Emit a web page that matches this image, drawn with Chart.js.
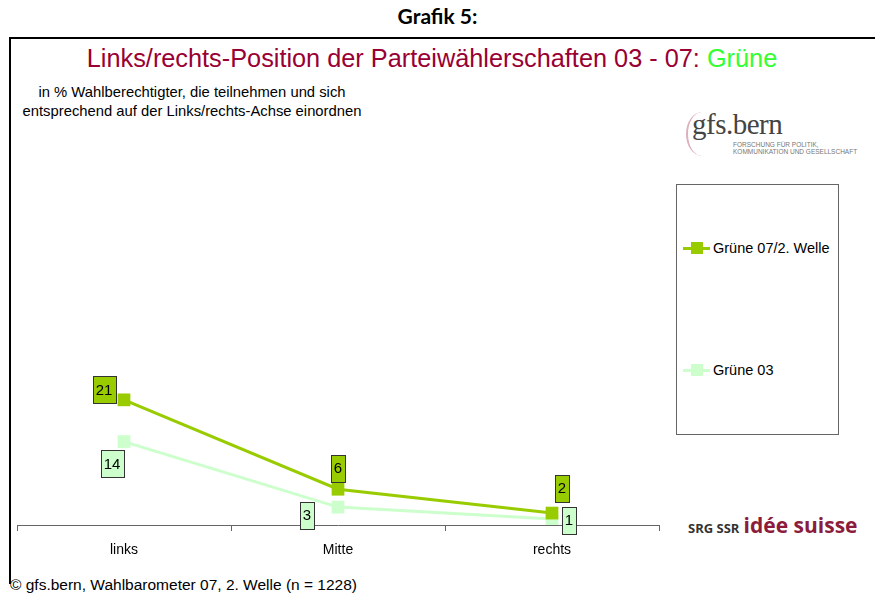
<!DOCTYPE html>
<html>
<head>
<meta charset="utf-8">
<script src="https://cdn.jsdelivr.net/npm/chart.js@4.4.1/dist/chart.umd.min.js"></script>
<style>
  html,body{margin:0;padding:0;background:#fff;}
  body{width:875px;height:593px;position:relative;overflow:hidden;font-family:"Liberation Sans",Arial,sans-serif;}
  #wrap{position:absolute;left:0;top:0;width:875px;height:593px;}
  .abs{position:absolute;white-space:nowrap;}
  #frame{position:absolute;left:9px;top:37px;width:870px;height:545px;border-top:2px solid #000;border-left:2px solid #000;}
  #legend{position:absolute;left:676px;top:184px;width:161px;height:249px;border:1px solid #666;background:#fff;}
  .li{position:absolute;left:6px;height:16px;width:155px;font-size:14.5px;color:#000;white-space:nowrap;}
  .li .ln{position:absolute;left:0;top:7px;width:27px;height:3px;}
  .li .mk{position:absolute;left:8px;top:2px;width:12px;height:12px;}
  .li .tx{position:absolute;left:30px;top:-1px;line-height:18px;}
</style>
</head>
<body>
<div id="frame"></div>
<div class="abs" style="left:0;width:875px;top:3px;text-align:center;font-family:Lato,'DejaVu Sans',sans-serif;font-weight:bold;font-size:21px;color:#000;">Grafik 5:</div>
<div class="abs" id="title" style="left:0;width:864px;top:44px;text-align:center;font-size:25.3px;color:#990033;">Links/rechts-Position der Parteiwählerschaften 03 - 07: <span style="color:#33ff33">Grüne</span></div>
<div class="abs" style="left:4px;width:376px;top:83px;text-align:center;font-size:14.8px;line-height:19px;color:#000;">in % Wahlberechtigter, die teilnehmen und sich<br>entsprechend auf der Links/rechts-Achse einordnen</div>

<!-- gfs.bern logo -->
<div class="abs" style="left:686px;top:112px;width:30px;height:44px;border-left:2px solid #dcb0bd;border-radius:50% 0 0 50%/50% 0 0 50%;"></div>
<div class="abs" style="left:692px;top:108px;font-family:'Liberation Serif','DejaVu Serif',serif;font-size:29px;color:#444;letter-spacing:-0.5px;">gfs.bern</div>
<div class="abs" style="left:733px;top:141px;font-size:6.5px;line-height:7px;color:#777;">FORSCHUNG FÜR POLITIK,<br>KOMMUNIKATION UND GESELLSCHAFT</div>

<!-- SRG logo -->
<div class="abs" style="left:688px;top:511px;font-family:'Open Sans','DejaVu Sans',sans-serif;font-weight:bold;color:#333;"><span style="font-size:13px;">SRG SSR</span> <span style="font-size:21px;color:#8c1c3c;">idée suisse</span></div>

<div class="abs" style="left:10px;top:576px;font-size:15.5px;color:#000;">© gfs.bern, Wahlbarometer 07, 2. Welle (n = 1228)</div>

<div id="wrap"><canvas id="c" width="875" height="593"></canvas></div>

<div id="legend"></div>

<script>
const categories = ["links", "Mitte", "rechts"];
const seriesNames = ["Grüne 07/2. Welle", "Grüne 03"];
const values07 = [21, 6, 2];
const values03 = [14, 3, 1];
const seriesColors = ["#99cc00", "#ccffcc"];

// legend (HTML)
const legend = document.getElementById('legend');
const legendTops = [55, 177];
seriesNames.forEach((n, i) => {
  const d = document.createElement('div');
  d.className = 'li';
  d.style.top = legendTops[i] + 'px';
  d.innerHTML = '<div class="ln" style="background:' + seriesColors[i] + '"></div><div class="mk" style="background:' + seriesColors[i] + '"></div><div class="tx">' + n + '</div>';
  legend.appendChild(d);
});

const boxLabels = {
  id: 'boxLabels',
  afterDatasetsDraw(chart, args, opts) {
    const ctx = chart.ctx;
    chart.data.datasets.forEach((ds, di) => {
      const meta = chart.getDatasetMeta(di);
      const offs = opts.offsets[di];
      meta.data.forEach((pt, i) => {
        const txt = String(ds.data[i]);
        ctx.save();
        ctx.font = '15px "Liberation Sans", Arial, sans-serif';
        const w = ctx.measureText(txt).width + 6;
        const h = 27;
        const cx = pt.x + offs[i][0], cy = pt.y + offs[i][1];
        ctx.fillStyle = opts.fills[di];
        ctx.fillRect(Math.round(cx - w / 2) + 0.5, Math.round(cy - h / 2) + 0.5, Math.round(w), h);
        ctx.strokeStyle = '#333';
        ctx.lineWidth = 1;
        ctx.strokeRect(Math.round(cx - w / 2) + 0.5, Math.round(cy - h / 2) + 0.5, Math.round(w), h);
        ctx.fillStyle = '#000';
        ctx.textAlign = 'center';
        ctx.textBaseline = 'middle';
        ctx.fillText(txt, cx, cy + 1);
        ctx.restore();
      });
    });
  }
};

new Chart(document.getElementById('c'), {
  type: 'line',
  data: {
    labels: categories,
    datasets: [
      { label: seriesNames[0], data: values07, borderColor: seriesColors[0], backgroundColor: seriesColors[0],
        borderWidth: 3, pointStyle: 'rect', pointRadius: 9, pointBorderWidth: 0, tension: 0 },
      { label: seriesNames[1], data: values03, borderColor: seriesColors[1], backgroundColor: seriesColors[1],
        borderWidth: 3, pointStyle: 'rect', pointRadius: 9, pointBorderWidth: 0, tension: 0 }
    ]
  },
  options: {
    responsive: false,
    animation: false,
    events: [],
    layout: { padding: { left: 17, right: 216, top: 227, bottom: 38 } },
    plugins: {
      legend: { display: false },
      tooltip: { enabled: false },
      boxLabels: {
        offsets: [ [[-20, -10], [0, -21], [10, -25]], [[-12, 22], [-31, 8], [17, 1]] ],
        fills: ["#99cc00", "#ccffcc"]
      }
    },
    scales: {
      x: {
        offset: true,
        grid: { offset: true, drawOnChartArea: false, drawTicks: true, tickLength: 6, color: '#666' },
        border: { display: true, color: '#666', width: 1 },
        ticks: { color: '#000', padding: 11, font: { family: '"Liberation Sans", Arial, sans-serif', size: 14 } },
        afterFit(scale) { scale.height = 30; }
      },
      y: { display: false, min: 0, max: 50 }
    }
  },
  plugins: [boxLabels]
});
</script>
</body>
</html>
